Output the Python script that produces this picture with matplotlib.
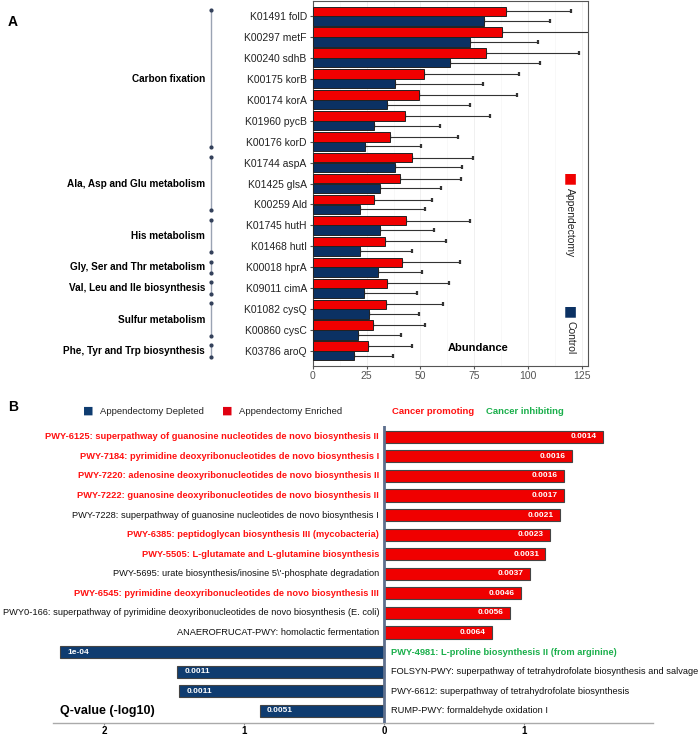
import matplotlib
matplotlib.use("Agg")
import matplotlib.pyplot as plt
import matplotlib.transforms as mtransforms
import numpy as np

plt.rcParams['font.family'] = ['Liberation Sans', 'DejaVu Sans']

# ---- panel A data ----
genes = ["K01491 folD", "K00297 metF", "K00240 sdhB", "K00175 korB", "K00174 korA",
         "K01960 pycB", "K00176 korD", "K01744 aspA", "K01425 glsA", "K00259 Ald",
         "K01745 hutH", "K01468 hutI", "K00018 hprA", "K09011 cimA", "K01082 cysQ",
         "K00860 cysC", "K03786 aroQ"]
appendectomy = [89.7, 88.1, 80.4, 51.6, 49.4, 42.9, 35.8, 46.0, 40.3, 28.2,
                43.2, 33.4, 41.3, 34.4, 34.2, 27.7, 25.4]
appendectomy_hi = [120.0, 140.0, 123.6, 96.0, 95.1, 82.4, 67.5, 74.3, 69.1, 55.3,
                   73.2, 61.9, 68.4, 63.5, 60.7, 51.9, 46.0]
control = [79.6, 73.2, 63.9, 38.1, 34.4, 28.3, 24.2, 38.1, 31.3, 21.8,
           31.1, 22.0, 30.3, 23.7, 26.0, 20.9, 19.2]
control_hi = [110.3, 104.5, 105.5, 79.0, 73.2, 59.0, 50.3, 69.5, 59.5, 51.9,
              56.4, 46.0, 50.8, 48.3, 49.5, 41.0, 37.2]
groups = ["Carbon fixation", "Ala, Asp and Glu metabolism", "His metabolism",
          "Gly, Ser and Thr metabolism", "Val, Leu and Ile biosynthesis",
          "Sulfur metabolism", "Phe, Tyr and Trp biosynthesis"]
group_rows = [(0, 6), (7, 9), (10, 11), (12, 12), (13, 13), (14, 15), (16, 16)]

# ---- panel B data ----
pathways = [
    "PWY-6125: superpathway of guanosine nucleotides de novo biosynthesis II",
    "PWY-7184: pyrimidine deoxyribonucleotides de novo biosynthesis I",
    "PWY-7220: adenosine deoxyribonucleotides de novo biosynthesis II",
    "PWY-7222: guanosine deoxyribonucleotides de novo biosynthesis II",
    "PWY-7228: superpathway of guanosine nucleotides de novo biosynthesis I",
    "PWY-6385: peptidoglycan biosynthesis III (mycobacteria)",
    "PWY-5505: L-glutamate and L-glutamine biosynthesis",
    "PWY-5695: urate biosynthesis/inosine 5\\'-phosphate degradation",
    "PWY-6545: pyrimidine deoxyribonucleotides de novo biosynthesis III",
    "PWY0-166: superpathway of pyrimidine deoxyribonucleotides de novo biosynthesis (E. coli)",
    "ANAEROFRUCAT-PWY: homolactic fermentation",
    "PWY-4981: L-proline biosynthesis II (from arginine)",
    "FOLSYN-PWY: superpathway of tetrahydrofolate biosynthesis and salvage",
    "PWY-6612: superpathway of tetrahydrofolate biosynthesis",
    "RUMP-PWY: formaldehyde oxidation I",
]
scores = [1.562, 1.343, 1.286, 1.283, 1.259, 1.186, 1.152, 1.040, 0.979, 0.900,
          0.771, -2.314, -1.476, -1.462, -0.886]
qvalues = ["0.0014", "0.0016", "0.0016", "0.0017", "0.0021", "0.0023", "0.0031",
           "0.0037", "0.0046", "0.0056", "0.0064", "1e-04", "0.0011", "0.0011", "0.0051"]
roles = ["promoting", "promoting", "promoting", "promoting", "none", "promoting",
         "promoting", "none", "promoting", "none", "none", "inhibiting", "none",
         "none", "none"]

RED = "#f00000"
NAVY_A = "#0b3163"
NAVY_B = "#0f3c70"
GREEN = "#1aaf4b"
role_color = {"promoting": "#ff1010", "none": "#111111", "inhibiting": GREEN}

W, H = 700, 739
fig = plt.figure(figsize=(W / 100, H / 100), dpi=100)


def px_axes(left, top, right, bottom):
    return fig.add_axes([left / W, 1 - bottom / H, (right - left) / W, (bottom - top) / H])


# ================= Panel A =================
axA = px_axes(313, 1, 588, 366)
rows = np.arange(len(genes))
h = 0.45
app = np.array(appendectomy)
ctl = np.array(control)
axA.barh(rows - 0.23, app, height=h, color=RED, edgecolor="#222222", linewidth=0.7, zorder=3)
axA.barh(rows + 0.23, ctl, height=h, color=NAVY_A, edgecolor="#222222", linewidth=0.7, zorder=3)
axA.errorbar(app, rows - 0.23, xerr=[np.zeros_like(app), np.array(appendectomy_hi) - app],
             fmt="none", ecolor="#333333", elinewidth=0.8, capsize=1.2, capthick=1.6, zorder=2)
axA.errorbar(ctl, rows + 0.23, xerr=[np.zeros_like(ctl), np.array(control_hi) - ctl],
             fmt="none", ecolor="#333333", elinewidth=0.8, capsize=1.2, capthick=1.6, zorder=2)
axA.set_xlim(0, 128)
axA.set_ylim(len(genes) - 1 + 0.72, -0.72)
axA.set_yticks(rows)
axA.set_yticklabels(genes, fontsize=7.5, color="#222222")
axA.set_xticks([0, 25, 50, 75, 100, 125])
axA.set_xticks([12.5, 37.5, 62.5, 87.5, 112.5], minor=True)
axA.tick_params(axis="x", which="major", labelsize=7.5, labelcolor="#555555", length=2,
                color="#555555", pad=1.5)
axA.tick_params(axis="x", which="minor", length=0)
axA.tick_params(axis="y", length=2.5, color="#555555", pad=2)
axA.grid(axis="x", which="major", color="#eeeeee", linewidth=0.6, zorder=0)
axA.grid(axis="x", which="minor", color="#f5f5f5", linewidth=0.5, zorder=0)
for s in axA.spines.values():
    s.set_color("#555555")
    s.set_linewidth(0.8)
axA.text(0.6, 0.05, "Abundance", transform=axA.transAxes, ha="center", va="center",
         fontsize=8, fontweight="bold")

# group brackets
trans = mtransforms.blended_transform_factory(axA.transAxes, axA.transData)
bx = (211 - 313) / (588 - 313)
for name, (r0, r1) in zip(groups, group_rows):
    y0, y1 = r0 - 0.27, r1 + 0.27
    axA.plot([bx, bx], [y0, y1], color="#9aa3b3", linewidth=1.0, transform=trans, clip_on=False)
    axA.plot([bx, bx], [y0, y1], linestyle="none", marker="o", markersize=2, color="#33405a",
             transform=trans, clip_on=False)
    axA.text(bx - 0.022, (r0 + r1) / 2, name, transform=trans, ha="right", va="center",
             fontsize=7.2, fontweight="bold")

# legend A (vertical)
fig.text(570 / W, 1 - 178 / H, "\u25A0", color=RED, fontsize=10, ha="center", va="center",
         family="DejaVu Sans")
fig.text(570 / W, 1 - 188 / H, "Appendectomy", rotation=270, ha="center", va="top", fontsize=7.5,
         color="#222222")
fig.text(570 / W, 1 - 311 / H, "\u25A0", color=NAVY_A, fontsize=10, ha="center", va="center",
         family="DejaVu Sans")
fig.text(570 / W, 1 - 321 / H, "Control", rotation=270, ha="center", va="top", fontsize=7.5,
         color="#222222")

fig.text(8 / W, 1 - 22 / H, "A", fontsize=10, fontweight="bold", va="center")

# ================= Panel B =================
axB = px_axes(53, 426, 653, 723)
yb = np.arange(len(pathways))
sc = np.array(scores)
bar_colors = [RED if v > 0 else NAVY_B for v in sc]
axB.barh(yb, sc, height=0.62, color=bar_colors, edgecolor="#444444", linewidth=0.8, zorder=3)
axB.set_xlim(-2.365, 1.92)
axB.set_ylim(len(pathways) - 1 + 0.62, -0.55)
axB.axvline(0, color="#5d6f8d", linewidth=2.0, zorder=4)
axB.set_yticks([])
axB.set_xticks([-2, -1, 0, 1])
axB.set_xticklabels(["2", "1", "0", "1"], fontsize=7, fontweight="bold")
axB.tick_params(axis="x", length=1.5, color="#888888", pad=1)
for side in ["top", "right", "left"]:
    axB.spines[side].set_visible(False)
axB.spines["bottom"].set_color("#aaaaaa")
axB.spines["bottom"].set_linewidth(1.0)

for y, v, q, name, role in zip(yb, sc, qvalues, pathways, roles):
    bold = "bold" if role != "none" else "normal"
    if v > 0:
        axB.text(v - 0.045, y, q, ha="right", va="center", color="white", fontsize=6,
                 fontweight="bold", zorder=5)
        axB.text(-0.036, y, name, ha="right", va="center", color=role_color[role],
                 fontsize=6.65, fontweight=bold)
    else:
        axB.text(v + 0.05, y, q, ha="left", va="center", color="white", fontsize=6,
                 fontweight="bold", zorder=5)
        axB.text(0.05, y, name, ha="left", va="center", color=role_color[role],
                 fontsize=6.65, fontweight=bold, zorder=5)

axB.text(0.012, 0.04, "Q-value (-log10)", transform=axB.transAxes, ha="left",
         va="center", fontsize=9, fontweight="bold")

# legend B
ly = 1 - 411 / H
fig.text(88 / W, ly, "\u25A0", color=NAVY_B, fontsize=8, ha="center", va="center", family="DejaVu Sans")
fig.text(100 / W, ly, "Appendectomy Depleted", fontsize=6.8, ha="left", va="center", color="#222222")
fig.text(227 / W, ly, "\u25A0", color="#e00010", fontsize=8, ha="center", va="center", family="DejaVu Sans")
fig.text(239 / W, ly, "Appendectomy Enriched", fontsize=6.8, ha="left", va="center", color="#222222")
fig.text(392 / W, ly, "Cancer promoting", fontsize=6.8, fontweight="bold", ha="left", va="center",
         color="#ff1010")
fig.text(486 / W, ly, "Cancer inhibiting", fontsize=6.8, fontweight="bold", ha="left", va="center",
         color=GREEN)

fig.text(8 / W, 1 - 407 / H, "B", fontsize=10, fontweight="bold", va="center")

fig.savefig("out.png", dpi=100)
